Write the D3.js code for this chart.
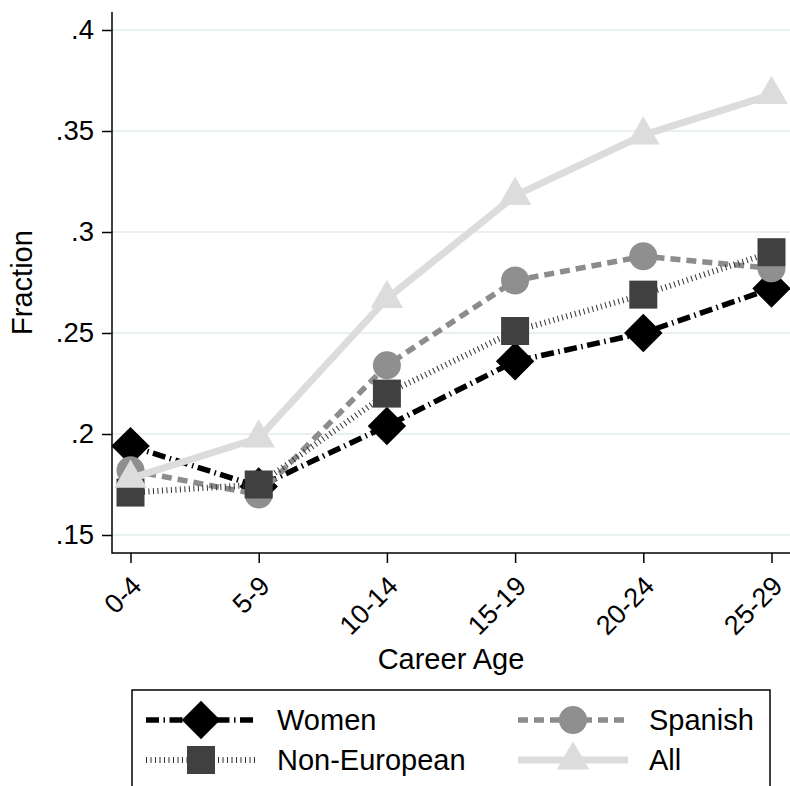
<!DOCTYPE html>
<html>
<head>
<meta charset="utf-8">
<script src="https://cdn.jsdelivr.net/npm/d3@7"></script>
<style>
  body { margin: 0; background: #fff; }
  text { font-family: "Liberation Sans", Arial, Helvetica, sans-serif; fill: #000; }
</style>
</head>
<body>
<div id="chart"></div>
<script>
// Fraction by career age, four groups
const ages = ["0-4", "5-9", "10-14", "15-19", "20-24", "25-29"];
const women = [0.194, 0.174, 0.204, 0.236, 0.250, 0.272];
const spanish = [0.182, 0.170, 0.234, 0.276, 0.288, 0.282];
const nonEuropean = [0.171, 0.175, 0.220, 0.251, 0.269, 0.290];
const allGroup = [0.178, 0.198, 0.267, 0.318, 0.348, 0.368];
const yTicks = [0.15, 0.2, 0.25, 0.3, 0.35, 0.4];
const yTickLabels = [".15", ".2", ".25", ".3", ".35", ".4"];

const width = 790, height = 786;
const plot = { left: 112, right: 790, top: 12, bottom: 553 };

const svg = d3.select("#chart").append("svg")
  .attr("width", width)
  .attr("height", height);

const x = d3.scalePoint().domain(ages).range([130.5, 771.5]);
const y = d3.scaleLinear().domain([0.15, 0.4]).range([535, 30]);

// gridlines
svg.append("g").selectAll("line")
  .data(yTicks)
  .enter().append("line")
  .attr("x1", plot.left).attr("x2", plot.right)
  .attr("y1", d => y(d)).attr("y2", d => y(d))
  .attr("stroke", "#e8f0f2")
  .attr("stroke-width", 2);

// axes
const yAxis = svg.append("g")
  .attr("transform", `translate(${plot.left},0)`)
  .call(d3.axisLeft(y).tickValues(yTicks).tickFormat((d, i) => yTickLabels[i]).tickSize(10).tickPadding(8));
yAxis.select(".domain").remove();
yAxis.selectAll(".tick line").attr("stroke", "#000").attr("stroke-width", 1.5);
yAxis.selectAll(".tick text").attr("font-size", 27.5).attr("font-family", "Liberation Sans, Arial, sans-serif");

const xAxis = svg.append("g")
  .attr("transform", `translate(0,${plot.bottom})`)
  .call(d3.axisBottom(x).tickSize(10).tickFormat(""));
xAxis.select(".domain").remove();
xAxis.selectAll(".tick line").attr("stroke", "#000").attr("stroke-width", 1.5);

svg.append("g").selectAll("text")
  .data(ages)
  .enter().append("text")
  .attr("transform", d => `translate(${x(d) + 6},${plot.bottom + 28}) rotate(-45)`)
  .attr("text-anchor", "end")
  .attr("dy", "0.35em")
  .attr("font-size", 27)
  .text(d => d);

svg.append("path")
  .attr("d", `M${plot.left},${plot.top}V${plot.bottom}H${plot.right}`)
  .attr("fill", "none")
  .attr("stroke", "#000")
  .attr("stroke-width", 1.5);

svg.append("text")
  .attr("transform", `translate(32,${(plot.top + plot.bottom) / 2}) rotate(-90)`)
  .attr("text-anchor", "middle")
  .attr("font-size", 29)
  .text("Fraction");

svg.append("text")
  .attr("x", (plot.left + plot.right) / 2)
  .attr("y", 669)
  .attr("text-anchor", "middle")
  .attr("font-size", 29)
  .text("Career Age");

// series styles
const series = [
  { name: "Women", values: women, color: "#000", marker: "diamond", mcolor: "#000", width: 5.5, dash: "13 4.5 1.5 4.5" },
  { name: "Spanish", values: spanish, color: "#8c8c8c", marker: "circle", mcolor: "#8f8f8f", width: 5.5, dash: "10 6" },
  { name: "Non-European", values: nonEuropean, color: "#333", marker: "square", mcolor: "#404040", width: 6, dash: "1 3.5" },
  { name: "All", values: allGroup, color: "#dcdcdc", marker: "triangle", mcolor: "#dcdcdc", width: 7, dash: null }
];

function markerPath(type) {
  if (type === "diamond") return d3.symbol(d3.symbolSquare, 740)();
  if (type === "circle") return d3.symbol(d3.symbolCircle, 616)();
  if (type === "square") return d3.symbol(d3.symbolSquare, 784)();
  return d3.symbol(d3.symbolTriangle, 460)();
}
function markerTransform(type, cx, cy) {
  return type === "diamond" ? `translate(${cx},${cy}) rotate(45)` : `translate(${cx},${cy})`;
}

const line = d3.line().x((d, i) => x(ages[i])).y(d => y(d));

series.forEach(s => {
  const g = svg.append("g");
  g.append("path")
    .datum(s.values)
    .attr("d", line)
    .attr("fill", "none")
    .attr("stroke", s.color)
    .attr("stroke-width", s.width)
    .attr("stroke-dasharray", s.dash);
  g.selectAll(".mk")
    .data(s.values)
    .enter().append("path")
    .attr("class", "mk")
    .attr("d", markerPath(s.marker))
    .attr("transform", (d, i) => markerTransform(s.marker, x(ages[i]), y(d)))
    .attr("fill", s.mcolor);
});

// legend
const legend = svg.append("g");
legend.append("rect")
  .attr("x", 132).attr("y", 690)
  .attr("width", 638).attr("height", 130)
  .attr("fill", "#fff")
  .attr("stroke", "#000")
  .attr("stroke-width", 1.5);

const legendPos = [
  { s: series[0], x0: 146, ty: 720 },
  { s: series[1], x0: 518, ty: 720 },
  { s: series[2], x0: 146, ty: 760 },
  { s: series[3], x0: 518, ty: 760 }
];

legendPos.forEach(p => {
  const s = p.s;
  legend.append("line")
    .attr("x1", p.x0).attr("x2", p.x0 + 110)
    .attr("y1", p.ty).attr("y2", p.ty)
    .attr("stroke", s.color)
    .attr("stroke-width", s.width)
    .attr("stroke-dasharray", s.dash);
  legend.append("path")
    .attr("d", markerPath(s.marker))
    .attr("transform", markerTransform(s.marker, p.x0 + 55, p.ty))
    .attr("fill", s.mcolor);
  legend.append("text")
    .attr("x", p.x0 + 131)
    .attr("y", p.ty)
    .attr("dy", "0.36em")
    .attr("font-size", 29)
    .text(s.name);
});
</script>
</body>
</html>
